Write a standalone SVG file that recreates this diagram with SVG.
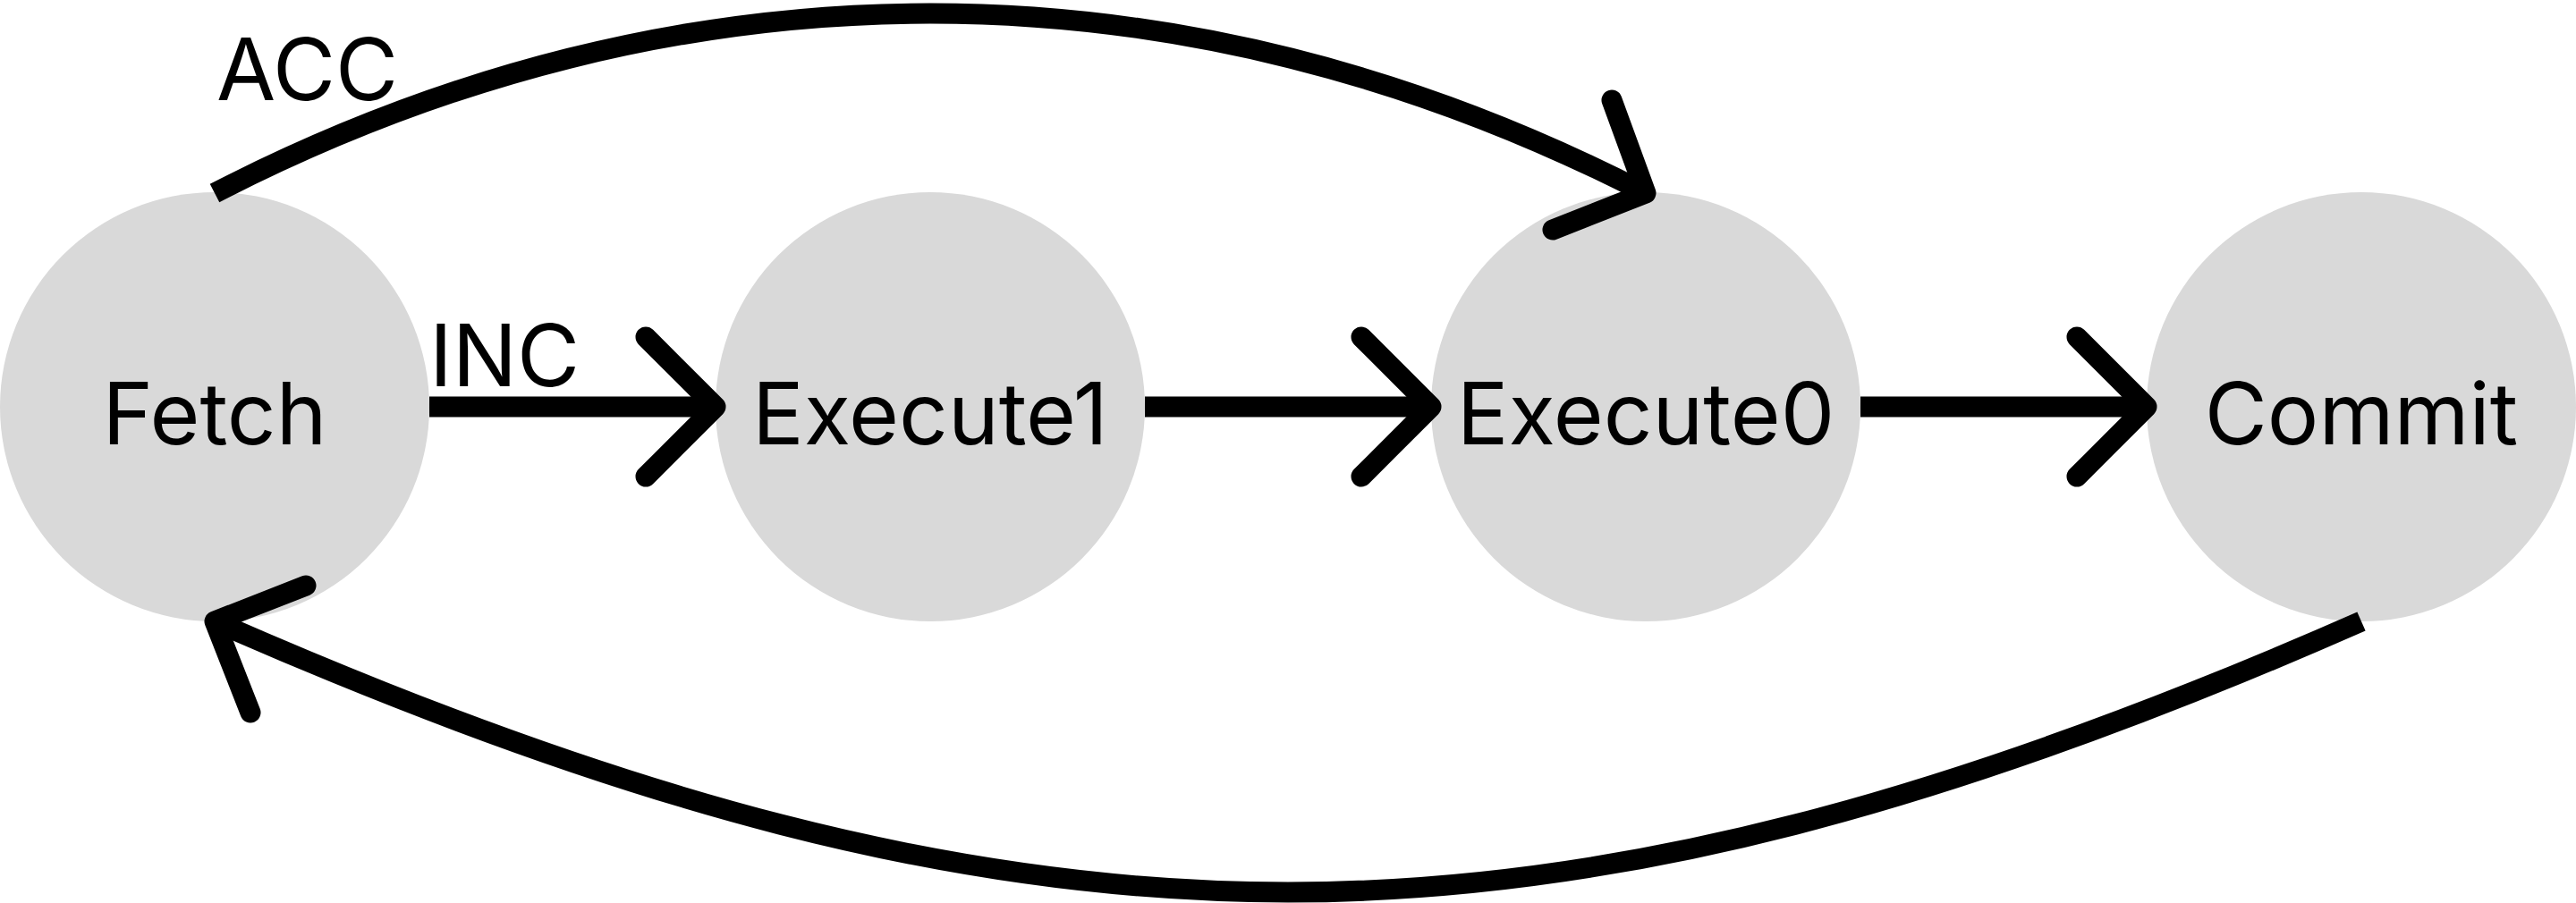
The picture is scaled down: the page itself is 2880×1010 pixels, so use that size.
<svg xmlns="http://www.w3.org/2000/svg" width="2880" height="1010" viewBox="0 0 2880 1010">
<style>
  .node { fill: #d9d9d9; }
  .lbl { font-family: Inter, "Liberation Sans", Arial, sans-serif; font-size: 96px; fill: #000; }
  .mid { text-anchor: middle; }
  .edge { fill: none; stroke: #000; stroke-width: 23; stroke-linecap: butt; }
  .head { fill: none; stroke: #000; stroke-width: 23; stroke-linecap: round; stroke-linejoin: round; }
</style>
<rect x="0" y="0" width="2880" height="1010" fill="#ffffff"/>
<g id="node-fetch">
  <circle class="node" cx="240" cy="455" r="240"/>
  <text class="lbl mid" x="240" y="497">Fetch</text>
</g>
<g id="node-execute1">
  <circle class="node" cx="1040" cy="455" r="240"/>
  <text class="lbl mid" x="1040" y="497">Execute1</text>
</g>
<g id="node-execute0">
  <circle class="node" cx="1840" cy="455" r="240"/>
  <text class="lbl mid" x="1840" y="497">Execute0</text>
</g>
<g id="node-commit">
  <circle class="node" cx="2640" cy="455" r="240"/>
  <text class="lbl mid" x="2640" y="497">Commit</text>
</g>
<g id="connectors">
  <line class="edge" x1="480" y1="455" x2="800" y2="455"/>
  <polyline class="head" points="722,377 800,455 722,533"/>
  <text class="lbl" x="480" y="432">INC</text>
  <line class="edge" x1="1280" y1="455" x2="1600" y2="455"/>
  <polyline class="head" points="1522,377 1600,455 1522,533"/>
  <line class="edge" x1="2080" y1="455" x2="2400" y2="455"/>
  <polyline class="head" points="2322,377 2400,455 2322,533"/>
  <path class="edge" d="M240,216 C760,-52 1320,-52 1840,216"/>
  <polyline class="head" points="1802,112 1840,216 1736,257"/>
  <text class="lbl" x="242" y="112">ACC</text>
  <path class="edge" d="M2640,695 C1722,1099 1158,1099 240,695"/>
  <polyline class="head" points="342,655 240,695 280,797"/>
</g>
</svg>
